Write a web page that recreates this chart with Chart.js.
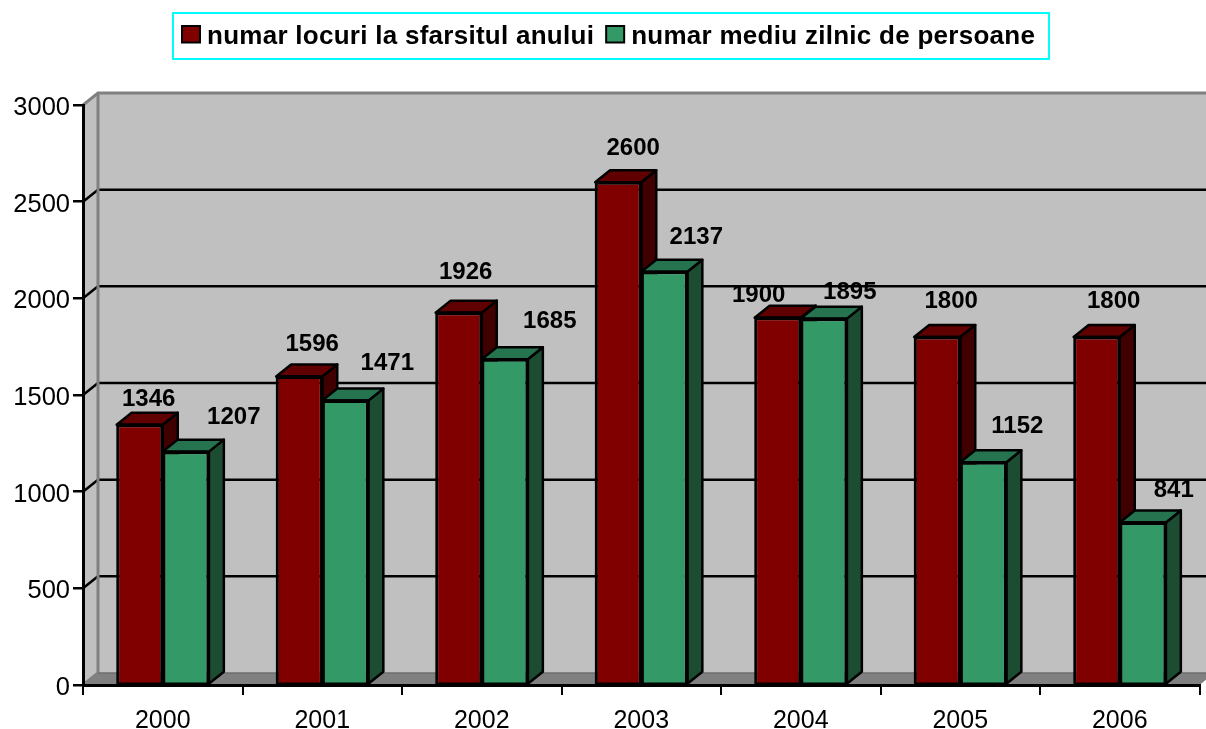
<!DOCTYPE html>
<html>
<head>
<meta charset="utf-8">
<title>numar locuri</title>
<script src="https://cdn.jsdelivr.net/npm/chart.js@4/dist/chart.umd.min.js"></script>
<style>
  html, body { margin: 0; padding: 0; background: #fff; overflow: hidden; }
  canvas { display: block; }
</style>
</head>
<body>
<canvas id="myChart" width="1206" height="729"></canvas>
<script>
  // data
  const years = ['2000', '2001', '2002', '2003', '2004', '2005', '2006'];
  const seriesNames = ['numar locuri la sfarsitul anului', 'numar mediu zilnic de persoane'];
  const locuri = [1346, 1596, 1926, 2600, 1900, 1800, 1800];
  const persoane = [1207, 1471, 1685, 2137, 1895, 1152, 841];

  // label offsets from the bar's top centre, they are placed by hand in the original
  const locuriLabelShift = [[9, -25], [13, -32], [7, -40], [15, -34], [-19, -22], [14, -36], [17, -36]];
  const persoaneLabelShift = [[48, -34], [42, -37], [45, -38], [32, -34], [26, -26], [34, -36], [31, -32]];

  const depthX = 15;
  const depthY = -12;
  const FONT = '"Liberation Sans", Arial, sans-serif';

  function poly(ctx, pts, fill, stroke, lw) {
    ctx.beginPath();
    pts.forEach((p, i) => i ? ctx.lineTo(p[0], p[1]) : ctx.moveTo(p[0], p[1]));
    ctx.closePath();
    if (fill) { ctx.fillStyle = fill; ctx.fill(); }
    if (stroke) { ctx.strokeStyle = stroke; ctx.lineWidth = lw; ctx.stroke(); }
  }

  const box3d = {
    id: 'box3d',
    // back wall, side wall, floor and the grid lines
    beforeDraw(chart) {
      const { ctx, chartArea: a, scales } = chart;
      const right = a.right + depthX;
      ctx.save();
      poly(ctx, [[a.left + depthX, a.top + depthY], [right, a.top + depthY], [right, a.bottom + depthY], [a.left + depthX, a.bottom + depthY]], '#c0c0c0');
      poly(ctx, [[a.left, a.top], [a.left + depthX, a.top + depthY], [a.left + depthX, a.bottom + depthY], [a.left, a.bottom]], '#c0c0c0');
      poly(ctx, [[a.left, a.bottom], [a.left + depthX, a.bottom + depthY], [right, a.bottom + depthY], [a.right, a.bottom]], '#808080');

      ctx.strokeStyle = '#000';
      ctx.lineWidth = 2.5;
      scales.y.ticks.forEach(t => {
        if (t.value === 0 || t.value === 3000) return;
        const y = scales.y.getPixelForValue(t.value);
        ctx.beginPath();
        ctx.moveTo(a.left, y);
        ctx.lineTo(a.left + depthX, y + depthY);
        ctx.lineTo(right, y + depthY);
        ctx.stroke();
      });

      ctx.strokeStyle = '#808080';
      ctx.lineWidth = 3;
      ctx.beginPath();
      ctx.moveTo(a.left, a.top);
      ctx.lineTo(a.left + depthX, a.top + depthY);
      ctx.lineTo(right, a.top + depthY);
      ctx.moveTo(a.left + depthX, a.top + depthY);
      ctx.lineTo(a.left + depthX, a.bottom + depthY);
      ctx.lineTo(a.left, a.bottom);
      ctx.stroke();
      ctx.strokeStyle = '#6e6e6e';
      ctx.lineWidth = 1.5;
      ctx.beginPath();
      ctx.moveTo(a.left + depthX, a.bottom + depthY);
      ctx.lineTo(right, a.bottom + depthY);
      ctx.stroke();
      ctx.restore();
    },
    // side and top faces behind the fronts the library draws
    beforeDatasetsDraw(chart) {
      const { ctx } = chart;
      const faces = [['#400000', '#600000'], ['#1c4d33', '#267350']];
      ctx.save();
      ctx.lineJoin = 'round';
      for (let i = 0; i < years.length; i++) {
        [0, 1].forEach(d => {
          const b = chart.getDatasetMeta(d).data[i];
          const l = b.x - b.width / 2, r = b.x + b.width / 2;
          poly(ctx, [[r, b.y], [r + depthX, b.y + depthY], [r + depthX, b.base + depthY], [r, b.base]], faces[d][0], '#000', 2.5);
          poly(ctx, [[l, b.y], [l + depthX, b.y + depthY], [r + depthX, b.y + depthY], [r, b.y]], faces[d][1], '#000', 2.5);
        });
      }
      ctx.restore();
    },
    afterDatasetsDraw(chart) {
      const { ctx } = chart;
      const shifts = [locuriLabelShift, persoaneLabelShift];
      ctx.save();
      ctx.font = 'bold 24px ' + FONT;
      ctx.textAlign = 'center';
      ctx.textBaseline = 'middle';
      chart.data.datasets.forEach((ds, d) => {
        chart.getDatasetMeta(d).data.forEach((b, i) => {
          // the library's border comes out thin on the left edge, go over it
          ctx.strokeStyle = '#000';
          ctx.lineWidth = 2.5;
          ctx.strokeRect(b.x - b.width / 2 + 1, b.y, b.width - 1, b.base - b.y);
        });
      });
      ctx.fillStyle = '#000';
      chart.data.datasets.forEach((ds, d) => {
        chart.getDatasetMeta(d).data.forEach((b, i) => {
          ctx.fillText(String(ds.data[i]), b.x + shifts[d][i][0], b.y + shifts[d][i][1]);
        });
      });
      ctx.restore();
    },
    // legend with the cyan frame
    afterDraw(chart) {
      const { ctx } = chart;
      ctx.save();
      ctx.strokeStyle = '#00ffff';
      ctx.lineWidth = 2;
      ctx.strokeRect(173, 13, 876, 46);
      ctx.font = 'bold 26px ' + FONT;
      ctx.letterSpacing = '0.27px';
      ctx.textBaseline = 'alphabetic';
      ctx.textAlign = 'left';
      let x = 182;
      chart.data.datasets.forEach(ds => {
        ctx.fillStyle = ds.backgroundColor;
        ctx.strokeStyle = '#000';
        ctx.lineWidth = 2;
        ctx.fillRect(x, 26, 18, 16.5);
        ctx.strokeRect(x, 26, 18, 16.5);
        ctx.fillStyle = '#000';
        ctx.fillText(ds.label, x + 25, 44);
        x += 25 + ctx.measureText(ds.label).width + 12;
      });
      ctx.restore();
    }
  };

  const ctx = document.getElementById('myChart').getContext('2d');
  const myChart = new Chart(ctx, {
    type: 'bar',
    data: {
      labels: years,
      datasets: [
        { label: seriesNames[0], data: locuri, backgroundColor: '#800000', borderColor: '#000', borderWidth: 2.5 },
        { label: seriesNames[1], data: persoane, backgroundColor: '#339966', borderColor: '#000', borderWidth: 2.5 }
      ]
    },
    options: {
      responsive: false,
      animation: false,
      layout: { autoPadding: false, padding: { top: 105, right: 6.5, left: 0, bottom: 0 } },
      plugins: { legend: { display: false }, tooltip: { enabled: false } },
      datasets: { bar: { categoryPercentage: 0.578, barPercentage: 1 } },
      scales: {
        x: {
          afterFit(s) { s.height = 44; },
          grid: { drawOnChartArea: false, color: '#000', lineWidth: 2, tickLength: 10 },
          border: { color: '#000', width: 3 },
          ticks: { color: '#000', font: { family: FONT, size: 25 }, padding: 11, maxRotation: 0 }
        },
        y: {
          min: 0,
          max: 3000,
          afterFit(s) { s.width = 83; },
          grid: { drawOnChartArea: false, color: '#000', lineWidth: 2.5, tickLength: 10 },
          border: { color: '#000', width: 3 },
          ticks: { stepSize: 500, color: '#000', font: { family: FONT, size: 25.5 }, padding: 3, labelOffset: 3, callback: v => String(v) }
        }
      }
    },
    plugins: [box3d]
  });
</script>
</body>
</html>
